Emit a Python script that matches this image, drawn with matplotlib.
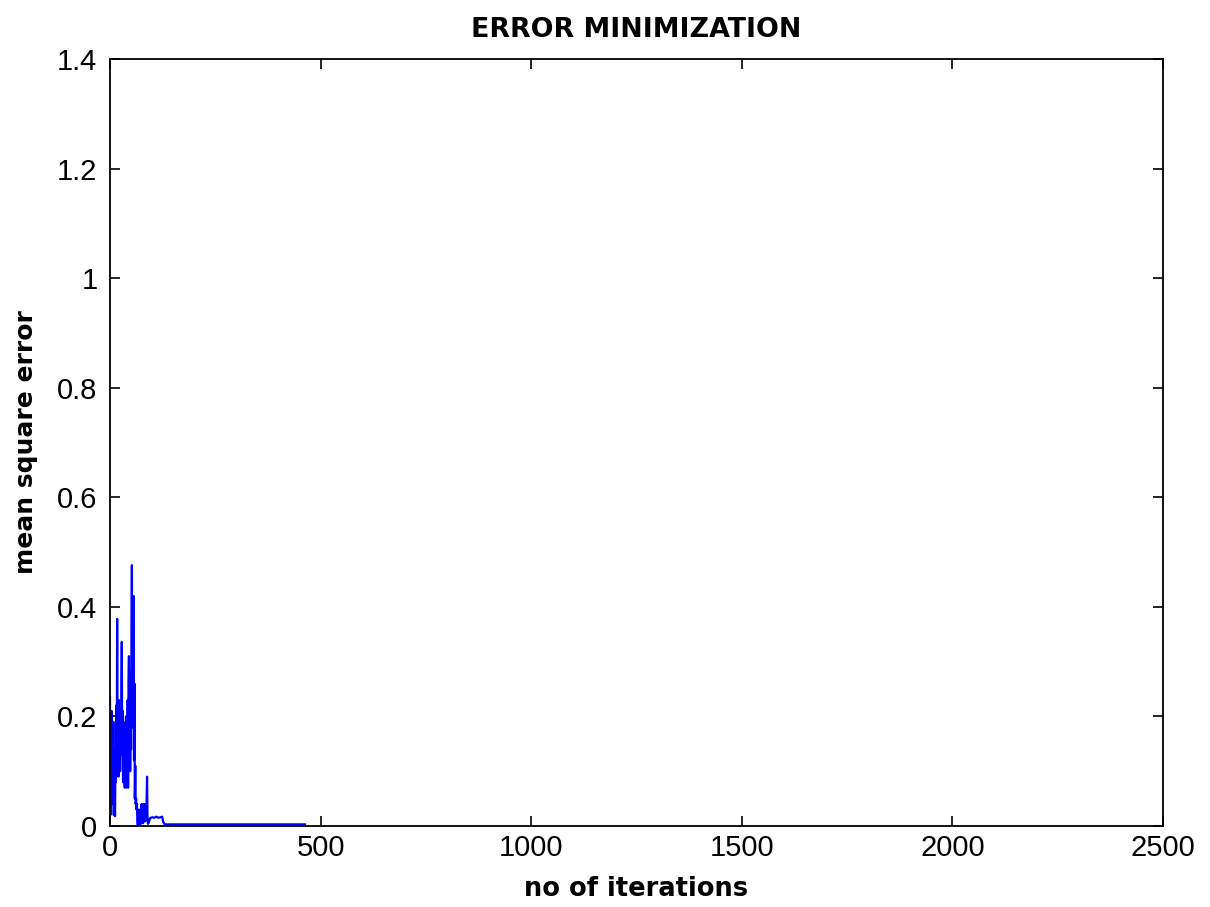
import matplotlib.pyplot as plt

plt.rcParams['font.family'] = ['Liberation Sans', 'DejaVu Sans']

# training error per iteration (dense oscillation at the start, then flat)
iterations = list(range(0, 91)) + [92, 95, 100, 105, 110, 115, 120, 124, 126, 130, 463]
mse = [0.235, 0.02, 0.17, 0.06, 0.21, 0.09, 0.16, 0.04, 0.19, 0.02,
       0.14, 0.05, 0.018, 0.12, 0.08, 0.22, 0.10, 0.378, 0.11, 0.20,
       0.09, 0.23, 0.12, 0.18, 0.10, 0.16, 0.13, 0.24, 0.336, 0.15,
       0.21, 0.08, 0.19, 0.11, 0.17, 0.07, 0.14, 0.09, 0.20, 0.07,
       0.15, 0.12, 0.23, 0.07, 0.26, 0.31, 0.12, 0.22, 0.10, 0.28,
       0.14, 0.35, 0.476, 0.18, 0.31, 0.20, 0.42, 0.12, 0.26, 0.05,
       0.11, 0.04, 0.05, 0.03, 0.04, 0.01, 0.002, 0.02, 0.004, 0.03,
       0.006, 0.025, 0.003, 0.03, 0.008, 0.04, 0.01, 0.035, 0.005, 0.04,
       0.012, 0.03, 0.008, 0.04, 0.02, 0.035, 0.01, 0.05, 0.09, 0.02,
       0.004,
       0.006, 0.014, 0.016, 0.015, 0.017, 0.015, 0.016, 0.017, 0.008, 0.003, 0.003]

x_ticks = [0, 500, 1000, 1500, 2000, 2500]
y_ticks = [0, 0.2, 0.4, 0.6, 0.8, 1, 1.2, 1.4]
y_tick_labels = ['0', '0.2', '0.4', '0.6', '0.8', '1', '1.2', '1.4']

fig = plt.figure(figsize=(12.1, 9.07), dpi=100)
ax = fig.add_axes([0.0909, 0.0893, 0.8703, 0.8456])

ax.plot(iterations, mse, color='b', linewidth=1.6)

ax.set_xlim(0, 2500)
ax.set_ylim(0, 1.4)
ax.set_xticks(x_ticks)
ax.set_yticks(y_ticks)
ax.set_yticklabels(y_tick_labels)
ax.tick_params(direction='in', length=7, width=1.2, labelsize=21,
               top=True, right=True, colors='black')
ax.tick_params(axis='x', pad=6)
ax.tick_params(axis='y', pad=9)
for s in ax.spines.values():
    s.set_linewidth(1.3)

bold = dict(family='DejaVu Sans', fontweight='bold')
ax.set_title('ERROR MINIMIZATION', fontsize=19.4, pad=16, **bold)
ax.set_xlabel('no of iterations', fontsize=18.5, labelpad=10, **bold)
ax.set_ylabel('mean square error', fontsize=18, labelpad=14, **bold)

fig.savefig('out.png', dpi=100)
